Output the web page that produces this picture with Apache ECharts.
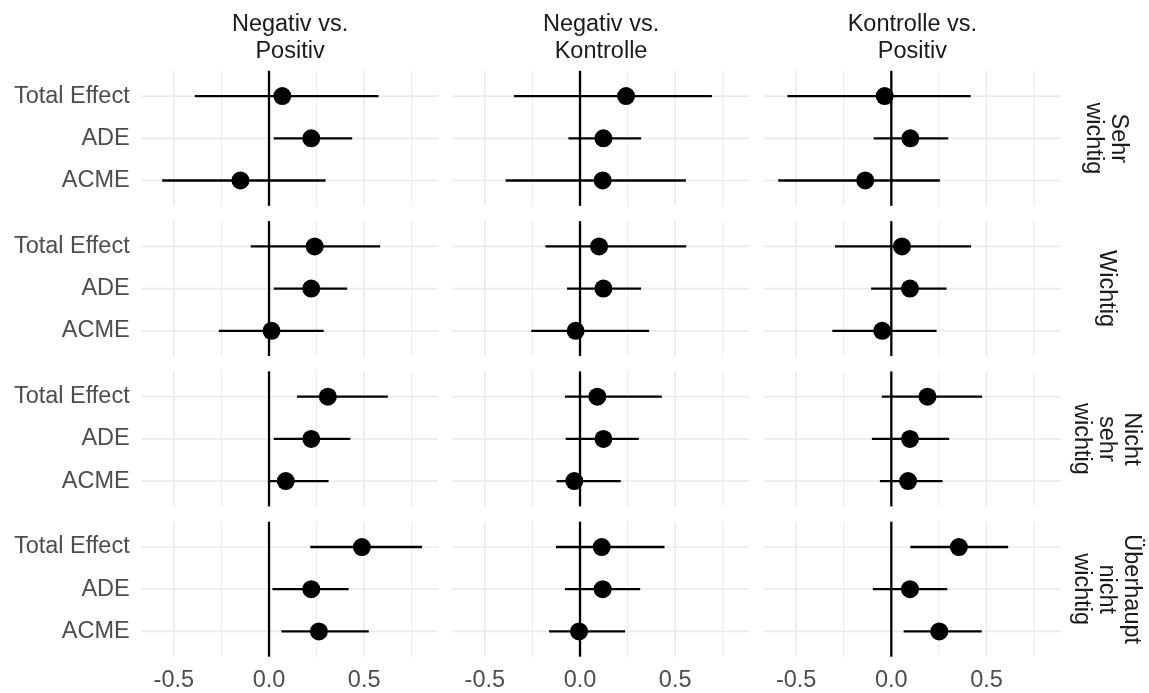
<!DOCTYPE html>
<html><head><meta charset="utf-8">
<script src="https://cdn.jsdelivr.net/npm/echarts@6/dist/echarts.min.js"></script>
<style>html,body{margin:0;padding:0;background:#fff}#c{width:1149px;height:693px}</style>
</head><body><div id="c"></div>
<script>
// ---- categories / labels ----
const effects = ['ACME', 'ADE', 'Total Effect'];            // bottom -> top
const comparisons = ['Negativ vs.\nPositiv', 'Negativ vs.\nKontrolle', 'Kontrolle vs.\nPositiv'];
const importance = ['Sehr\nwichtig', 'Wichtig', 'Nicht\nsehr\nwichtig', 'Überhaupt\nnicht\nwichtig'];
const xTickValues = [-0.5, 0, 0.5];
const xGridMajor = [-0.5, 0, 0.5];
const xGridMinor = [-0.25, 0.25, 0.75];

// ---- values: [importance row][ACME, ADE, Total Effect] ----
const negPosEst = [[-0.150, 0.222, 0.070], [0.013, 0.222, 0.240], [0.088, 0.222, 0.309], [0.262, 0.222, 0.488]];
const negPosLo  = [[-0.561, 0.025, -0.390], [-0.264, 0.025, -0.096], [0.000, 0.025, 0.147], [0.065, 0.018, 0.217]];
const negPosHi  = [[0.297, 0.437, 0.575], [0.287, 0.411, 0.584], [0.313, 0.427, 0.624], [0.524, 0.418, 0.804]];

const negKonEst = [[0.119, 0.123, 0.242], [-0.023, 0.123, 0.100], [-0.030, 0.123, 0.091], [-0.005, 0.119, 0.114]];
const negKonLo  = [[-0.391, -0.061, -0.347], [-0.256, -0.068, -0.182], [-0.123, -0.075, -0.079], [-0.163, -0.079, -0.126]];
const negKonHi  = [[0.556, 0.321, 0.693], [0.363, 0.321, 0.558], [0.214, 0.309, 0.430], [0.237, 0.316, 0.444]];

const konPosEst = [[-0.137, 0.100, -0.035], [-0.048, 0.098, 0.056], [0.088, 0.098, 0.190], [0.252, 0.098, 0.355]];
const konPosLo  = [[-0.594, -0.093, -0.546], [-0.310, -0.106, -0.296], [-0.060, -0.102, -0.050], [0.065, -0.097, 0.100]];
const konPosHi  = [[0.255, 0.299, 0.417], [0.238, 0.290, 0.419], [0.269, 0.304, 0.477], [0.475, 0.294, 0.614]];

const estByCol = [negPosEst, negKonEst, konPosEst];
const loByCol = [negPosLo, negKonLo, konPosLo];
const hiByCol = [negPosHi, negKonHi, konPosHi];

// ---- layout ----
const FONT = '"Liberation Sans", Arial, sans-serif';
const X_MIN = -0.669, X_MAX = 0.890, Y_MIN = 0.4, Y_MAX = 3.6;
const colLeft = [141.7, 452.7, 764], panelW = 296.7;
const rowTop = [70.8, 221.1, 371.4, 521.7], panelH = 135;

function guideRender(params, api) {
  const cs = params.coordSys;
  const kind = api.value(2);
  if (kind === 2) {
    const y = api.coord([0, api.value(1)])[1];
    return {type: 'line', shape: {x1: cs.x, y1: y, x2: cs.x + cs.width, y2: y},
      style: {stroke: '#EBEBEB', lineWidth: 1.7}};
  }
  const x = api.coord([api.value(0), 2])[0];
  if (kind === 3) {
    return {type: 'line', shape: {x1: x, y1: cs.y, x2: x, y2: cs.y + cs.height},
      style: {stroke: '#000', lineWidth: 2.3}};
  }
  return {type: 'line', shape: {x1: x, y1: cs.y, x2: x, y2: cs.y + cs.height},
    style: {stroke: '#EBEBEB', lineWidth: kind === 0 ? 1.7 : 1}};
}
function barRender(params, api) {
  const p1 = api.coord([api.value(0), api.value(2)]);
  const p2 = api.coord([api.value(1), api.value(2)]);
  return {type: 'line', shape: {x1: p1[0], y1: p1[1], x2: p2[0], y2: p2[1]},
    style: {stroke: '#000', lineWidth: 2.3}};
}

const grids = [], xAxes = [], yAxes = [], series = [], graphics = [];
for (let r = 0; r < importance.length; r++) {
  for (let c = 0; c < comparisons.length; c++) {
    const gi = r * 3 + c;
    grids.push({left: colLeft[c], top: rowTop[r], width: panelW, height: panelH});
    xAxes.push({gridIndex: gi, type: 'value', min: X_MIN, max: X_MAX,
      axisLine: {show: false}, axisTick: {show: false}, splitLine: {show: false},
      axisLabel: {show: r === importance.length - 1, customValues: xTickValues,
        formatter: v => v.toFixed(1), fontSize: 23.5, color: '#4D4D4D', fontFamily: FONT, margin: 12}});
    yAxes.push({gridIndex: gi, type: 'value', min: Y_MIN, max: Y_MAX,
      axisLine: {show: false}, axisTick: {show: false}, splitLine: {show: false},
      axisLabel: {show: c === 0, customValues: [1, 2, 3], padding: [5, 0, 0, 0],
        formatter: v => effects[Math.round(v) - 1], fontSize: 23.5, color: '#4D4D4D', fontFamily: FONT, margin: 12}});
    const guideData = [
      ...xGridMajor.map(v => [v, 2, 0]),
      ...xGridMinor.map(v => [v, 2, 1]),
      ...effects.map((e, i) => [0, i + 1, 2]),
      [0, 2, 3]
    ];
    series.push({type: 'custom', xAxisIndex: gi, yAxisIndex: gi, z: 1, silent: true,
      renderItem: guideRender, encode: {x: 0, y: 1}, data: guideData});
    series.push({type: 'custom', xAxisIndex: gi, yAxisIndex: gi, z: 2, silent: true,
      renderItem: barRender, encode: {x: [0, 1], y: 2},
      data: effects.map((e, i) => [loByCol[c][r][i], hiByCol[c][r][i], i + 1])});
    series.push({type: 'scatter', xAxisIndex: gi, yAxisIndex: gi, z: 3, silent: true,
      symbol: 'circle', symbolSize: 18, itemStyle: {color: '#000', opacity: 1},
      data: effects.map((e, i) => [estByCol[c][r][i], i + 1])});
  }
}
for (let c = 0; c < comparisons.length; c++) {
  graphics.push({type: 'text', x: colLeft[c] + panelW / 2, y: 11, silent: true,
    style: {text: comparisons[c], align: 'center', verticalAlign: 'top', fontSize: 23.5,
      lineHeight: 27, fontFamily: FONT, fill: '#1A1A1A'}});
}
for (let r = 0; r < importance.length; r++) {
  graphics.push({type: 'text', x: 1106, y: rowTop[r] + panelH / 2, rotation: -Math.PI / 2, silent: true,
    style: {text: importance[r], align: 'center', verticalAlign: 'middle', fontSize: 23.5,
      lineHeight: 25, fontFamily: FONT, fill: '#1A1A1A'}});
}

const chart = echarts.init(document.getElementById('c'));
chart.setOption({
  animation: false,
  backgroundColor: '#fff',
  grid: grids, xAxis: xAxes, yAxis: yAxes, series: series, graphic: graphics
});
</script></body></html>
